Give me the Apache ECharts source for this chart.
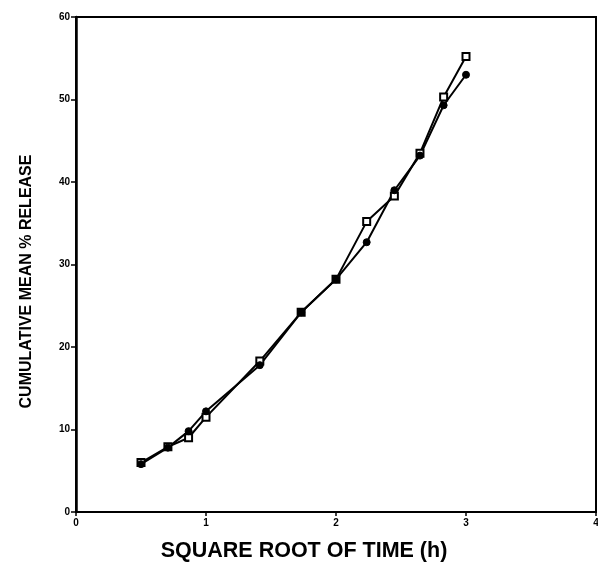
<!DOCTYPE html>
<html>
<head>
<meta charset="utf-8">
<script src="https://cdn.jsdelivr.net/npm/echarts@6/dist/echarts.min.js"></script>
<style>html,body{margin:0;padding:0;background:#fff}#c{width:598px;height:567px}</style>
</head>
<body>
<div id="c"></div>
<script>
var sqrtTime = [0.5, 0.707, 0.866, 1, 1.414, 1.732, 2, 2.236, 2.449, 2.646, 2.828, 3];
var releaseCircles = [5.8, 7.8, 9.8, 12.2, 17.8, 24.2, 28.2, 32.7, 39.0, 43.2, 49.3, 53.0];
var releaseSquares = [6.0, 7.9, 9.0, 11.5, 18.3, 24.2, 28.2, 35.2, 38.3, 43.5, 50.3, 55.2];
var xTicks = [0, 1, 2, 3, 4];
var yTicks = [0, 10, 20, 30, 40, 50, 60];

function pairs(xs, ys) { return xs.map(function (x, i) { return [x, ys[i]]; }); }

var chart = echarts.init(document.getElementById('c'));
chart.setOption({
  animation: false,
  backgroundColor: '#fff',
  grid: { left: 76, right: 2, top: 17, bottom: 55, show: true, borderColor: '#000', borderWidth: 2, containLabel: false, outerBoundsMode: 'none' },
  xAxis: {
    type: 'value', min: xTicks[0], max: xTicks[xTicks.length - 1], interval: 1,
    name: 'SQUARE ROOT OF TIME (h)', nameLocation: 'middle', nameGap: 28,
    nameTextStyle: { fontFamily: 'Liberation Sans', fontSize: 21.5, color: '#000', fontWeight: 'bold', padding: [0, 64, 0, 0] },
    axisLine: { lineStyle: { color: '#000', width: 2 } },
    axisTick: { lineStyle: { color: '#000', width: 1.5 }, length: 4 },
    axisLabel: { fontFamily: 'Liberation Sans', fontSize: 10, fontWeight: 'bold', color: '#000', margin: 6 },
    splitLine: { show: false }
  },
  yAxis: {
    type: 'value', min: yTicks[0], max: yTicks[yTicks.length - 1], interval: 10,
    name: 'CUMULATIVE MEAN % RELEASE', nameLocation: 'middle', nameGap: 41,
    nameTextStyle: { fontFamily: 'Liberation Sans', fontSize: 16, color: '#000', fontWeight: 'bold', padding: [0, 34, 0, 0] },
    axisLine: { lineStyle: { color: '#000', width: 2.5 } },
    axisTick: { lineStyle: { color: '#000', width: 1.5 }, length: 5 },
    axisLabel: { fontFamily: 'Liberation Sans', fontSize: 10, fontWeight: 'bold', color: '#000', margin: 6 },
    splitLine: { show: false }
  },
  series: [
    {
      type: 'line', data: pairs(sqrtTime, releaseSquares),
      symbol: 'rect', symbolSize: 7,
      lineStyle: { color: '#000', width: 2 },
      itemStyle: { color: '#fff', borderColor: '#000', borderWidth: 2 }
    },
    {
      type: 'line', data: pairs(sqrtTime, releaseCircles),
      symbol: 'circle', symbolSize: 7,
      lineStyle: { color: '#000', width: 2 },
      itemStyle: { color: '#000', borderColor: '#000', borderWidth: 1 }
    }
  ]
});
</script>
</body>
</html>
